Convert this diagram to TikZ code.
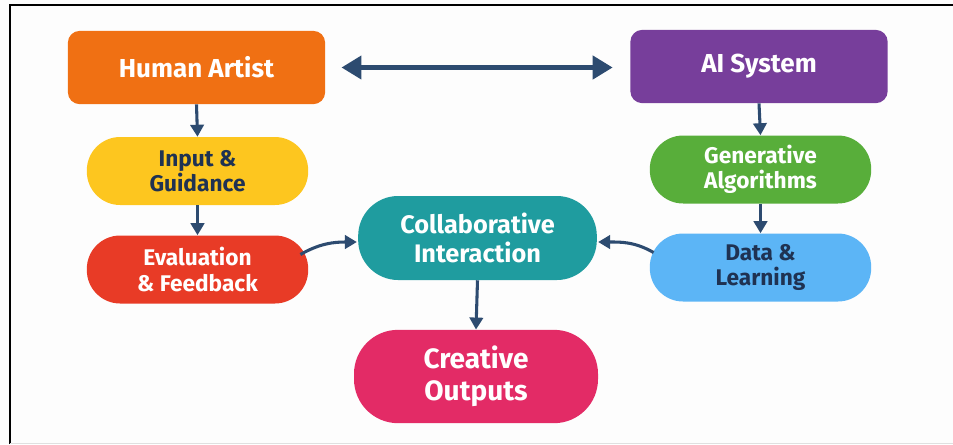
\documentclass[tikz,border=0pt]{standalone}
\usepackage{fontspec}
\setmainfont{Fira Sans}
\usetikzlibrary{arrows.meta,calc}
\definecolor{bgc}{HTML}{FDFDFD}
\definecolor{orangec}{HTML}{F07013}
\definecolor{purplec}{HTML}{773E9B}
\definecolor{yellowc}{HTML}{FDC61F}
\definecolor{redc}{HTML}{E83B26}
\definecolor{greenc}{HTML}{58AE3A}
\definecolor{bluec}{HTML}{5CB5F6}
\definecolor{tealc}{HTML}{1F9C9F}
\definecolor{pinkc}{HTML}{E32B66}
\definecolor{navy}{HTML}{2D4B70}
\definecolor{darktext}{HTML}{1F3252}
\tikzset{
  box/.style={inner sep=0pt, align=center, font=\bfseries},
  topbox/.style={box, rounded corners=9pt, minimum width=193pt, minimum height=55pt, text=white, font=\bfseries\fontsize{19.5}{22}\selectfont},
  pill/.style={box, rounded corners=25pt, minimum width=166pt, minimum height=51pt, font=\bfseries\fontsize{17}{19}\selectfont},
  conn/.style={draw=navy, line width=2.3pt, -{Triangle[length=9pt,width=10pt]}},
  bigconn/.style={draw=navy, line width=3.8pt, {Triangle[length=15pt,width=17pt]}-{Triangle[length=15pt,width=17pt]}}
}
\begin{document}
\begin{tikzpicture}[x=0.75pt,y=-0.75pt]
\fill[bgc] (0,0) rectangle (953,444);
\useasboundingbox (0,0) rectangle (953,444);
\draw[black, line width=1.6pt] (10,444) -- (10,5) -- (953,5);
\draw[black!12, line width=0.8pt] (10,443.5) -- (953,443.5);

\node[topbox, fill=orangec] (ha) at (196.5,67.5) {Human Artist};
\node[topbox, fill=purplec] (ai) at (759,66.5) {AI System};

\node[pill, fill=yellowc, text=darktext] (ig) at (197.5,171) {Input \&\\Guidance};
\node[pill, fill=redc, text=white] (ef) at (197.5,269.5) {Evaluation\\\& Feedback};
\node[pill, fill=greenc, text=white] (ga) at (760.5,169.5) {Generative\\Algorithms};
\node[pill, fill=bluec, text=darktext] (dl) at (760.5,267.5) {Data \&\\Learning};

\node[box, fill=tealc, text=white, rounded corners=30pt, minimum width=179pt, minimum height=63pt, font=\bfseries\fontsize{19}{22}\selectfont] (ci) at (477.5,238) {Collaborative\\Interaction};
\node[box, fill=pinkc, text=white, rounded corners=33pt, minimum width=183pt, minimum height=70pt, font=\bfseries\fontsize{21}{24}\selectfont] (co) at (476,376.5) {Creative\\Outputs};

\draw[bigconn] ([xshift=12pt]ha.east) -- ([xshift=-13pt]ai.west |- ha.east);
\draw[conn] (ha.south) -- (ig.north);
\draw[conn] (ig.south) -- (ef.north);
\draw[conn] (ai.south) -- (ga.north);
\draw[conn] (ga.south) -- (dl.north);
\draw[conn] ($(ef.east)+(-8,-15)$) to[out=30,in=180] ($(ci.west)+(-1,4)$);
\draw[conn] ($(dl.west)+(4,-15)$) to[out=150,in=0] ($(ci.east)+(1,4)$);
\draw[conn] (ci.south) -- (co.north);
\end{tikzpicture}
\end{document}
